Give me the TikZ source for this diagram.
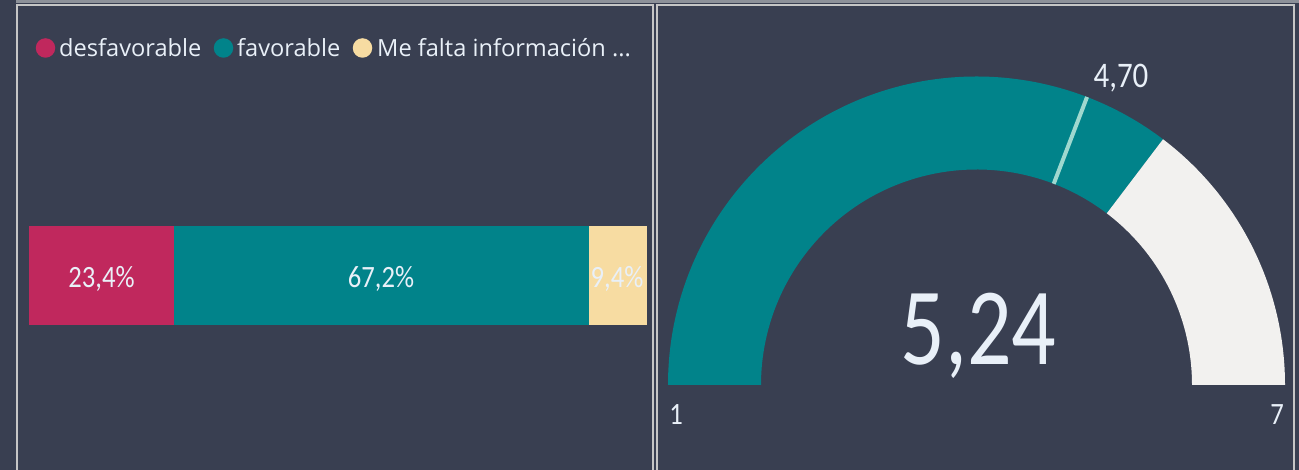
\documentclass[tikz,border=0pt]{standalone}
\usepackage{fontspec}
\setmainfont{Open Sans}
\newfontfamily\lightf[FakeStretch=0.86]{Carlito}
\newfontfamily\lightbig[FakeStretch=0.8]{Carlito}
\definecolor{bgc}{HTML}{393F51}
\definecolor{stripc}{HTML}{8D9199}
\definecolor{borderc}{HTML}{C6C6C6}
\definecolor{redc}{HTML}{C0285D}
\definecolor{tealc}{HTML}{01838A}
\definecolor{yellowc}{HTML}{F7DCA2}
\definecolor{lightc}{HTML}{F2F1EF}
\definecolor{targetc}{HTML}{9FD8CF}
\definecolor{textc}{HTML}{E9F0F8}
\tikzset{
  legtext/.style={anchor=base west, inner sep=0pt, text=textc, font=\fontsize{23.6}{24}\selectfont},
  legdot/.style={circle, minimum size=19.5pt, inner sep=0pt},
  barlabel/.style={anchor=base, inner sep=0pt, text=textc, font=\lightf\fontsize{31}{31}\selectfont},
  axlabel/.style={anchor=base, inner sep=0pt, text=textc, font=\lightf\fontsize{31}{31}\selectfont},
  panel/.style={draw=borderc, line width=2pt, fill=bgc},
}
\begin{document}
\begin{tikzpicture}[x=1pt,y=1pt]
\useasboundingbox (0,0) rectangle (1299,470);
\fill[bgc] (0,0) rectangle (1299,470);
\fill[stripc] (16,466.5) rectangle (1299,470);
% panels
\draw[panel] (17,-5) rectangle (653,464.5);
\draw[panel] (656.5,-5) rectangle (1293.5,464.5);
% legend
\node[legdot, fill=redc] (d1) at (45.5,422) {};
\node[legtext] (l1) at (59,413) {desfavorable};
\node[legdot, fill=tealc] (d2) at (223.5,422) {};
\node[legtext] (l2) at (237,413) {favorable};
\node[legdot, fill=yellowc] (d3) at (362.5,422) {};
\node[legtext] (l3) at (377,413) {Me falta información ...};
% stacked bar
\fill[redc] (29,145) rectangle (174,244);
\fill[tealc] (174,145) rectangle (589,244);
\fill[yellowc] (589,145) rectangle (647,244);
\node[barlabel] (b1) at (101.5,182) {23,4\%};
\node[barlabel] (b2) at (381,182) {67,2\%};
\node[barlabel] (b3) at (617,182) {9,4\%};
% gauge
\coordinate (c) at (976.5,85);
\fill[tealc] ([shift={(180:308.5)}]c) arc[start angle=180,end angle=52.8,radius=308.5]
  -- ([shift={(52.8:215.5)}]c) arc[start angle=52.8,end angle=180,radius=215.5] -- cycle;
\fill[lightc] ([shift={(52.8:308.5)}]c) arc[start angle=52.8,end angle=0,radius=308.5]
  -- ([shift={(0:215.5)}]c) arc[start angle=0,end angle=52.8,radius=215.5] -- cycle;
\coordinate (t1) at ([shift={(69:215.5)}]c);
\coordinate (t2) at ([shift={(69:308.5)}]c);
\draw[targetc, line width=4pt] (t1) -- (t2);
\node[anchor=base, inner sep=0pt, text=textc, font=\lightbig\fontsize{110}{110}\selectfont] (val) at (978.5,105) {5,24};
\node[axlabel, font=\lightf\fontsize{36}{36}\selectfont] (tl) at (1121,382) {4,70};
\node[axlabel] (mn) at (676,45) {1};
\node[axlabel] (mx) at (1277,45) {7};
\end{tikzpicture}
\end{document}
